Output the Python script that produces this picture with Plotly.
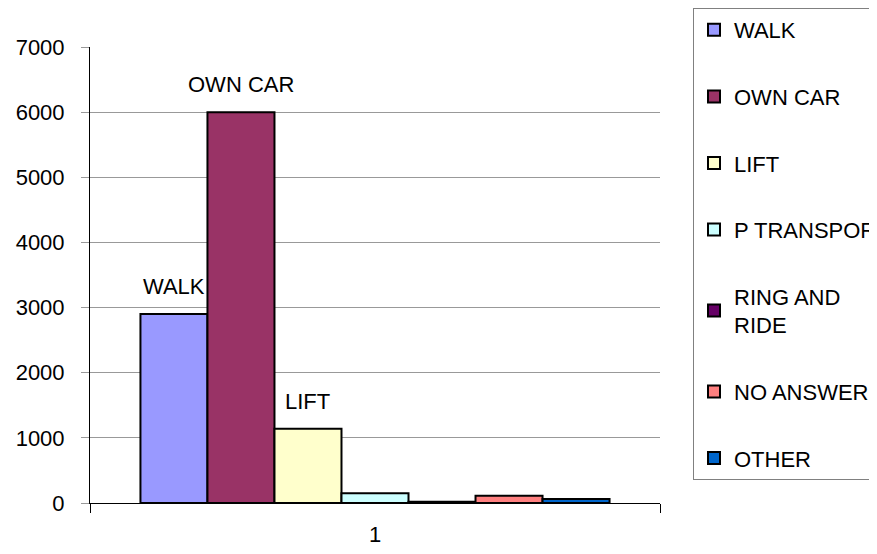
import plotly.graph_objects as go

categories = ["1"]
series_names = ["WALK", "OWN CAR", "LIFT", "P TRANSPORT", "RING AND RIDE", "NO ANSWER", "OTHER"]
legend_names = ["WALK", "OWN CAR", "LIFT", "P TRANSPORT", "RING AND<br>RIDE", "NO ANSWER", "OTHER"]
series_values = [2900, 6000, 1140, 150, 20, 110, 60]
labelled = [True, True, True, False, False, False, False]
colors = ["#9999FF", "#993366", "#FFFFCC", "#CCFFFF", "#660066", "#FF8080", "#0066CC"]
y_ticks = [0, 1000, 2000, 3000, 4000, 5000, 6000, 7000]

FONT = "Liberation Sans, Arial, sans-serif"
FS = 22
# the page body adds an 8px margin, so the figure is drawn 8px smaller
W, H = 869, 546
ML, MR, MT, MB = 82, 217, 39, 51
BARGAP = 0.177

fig = go.Figure()
for name, lname, v, c in zip(series_names, legend_names, series_values, colors):
    fig.add_trace(go.Bar(
        x=categories, y=[v], name=lname, legendgroup=name,
        marker=dict(color=c, line=dict(color="black", width=2)),
    ))

plot_w = W - ML - MR
plot_h = H - MT - MB
n = len(series_names)
barw = plot_w * (1 - BARGAP) / n
for i, (name, v, lab) in enumerate(zip(series_names, series_values, labelled)):
    if lab:
        fig.add_annotation(
            x=0, y=v, xref="x", yref="y", text=name, showarrow=False,
            xshift=(i - (n - 1) / 2) * barw, yshift=13, yanchor="bottom",
            font=dict(family=FONT, size=FS, color="black"),
        )

fig.update_layout(
    width=W, height=H,
    margin=dict(l=ML, r=MR, t=MT, b=MB, autoexpand=False),
    paper_bgcolor="white", plot_bgcolor="white",
    barmode="group", bargap=BARGAP, bargroupgap=0,
    font=dict(family=FONT, size=FS, color="black"),
    showlegend=True,
    legend=dict(
        x=(685 - ML) / plot_w, y=1 + MT / plot_h,
        xanchor="left", yanchor="top",
        bordercolor="#808080", borderwidth=1, bgcolor="white",
        font=dict(family=FONT, size=FS, color="black"),
        itemwidth=30, tracegroupgap=35, traceorder="grouped",
        itemclick=False, maxheight=540,
    ),
    xaxis=dict(
        type="category", showline=True, linecolor="black", linewidth=1,
        ticks="outside", tickson="boundaries", ticklen=9, tickcolor="black",
        showgrid=False, ticklabelstandoff=12,
        tickfont=dict(family=FONT, size=FS, color="black"),
    ),
    yaxis=dict(
        range=[0, 7000], tickvals=y_ticks, showline=True, linecolor="black", linewidth=1,
        ticks="outside", ticklen=8, tickcolor="#999999",
        showgrid=True, gridcolor="#999999", gridwidth=1, zeroline=False,
        ticklabelstandoff=12,
        tickfont=dict(family=FONT, size=FS, color="black"),
    ),
)

fig.write_html("out.html")
